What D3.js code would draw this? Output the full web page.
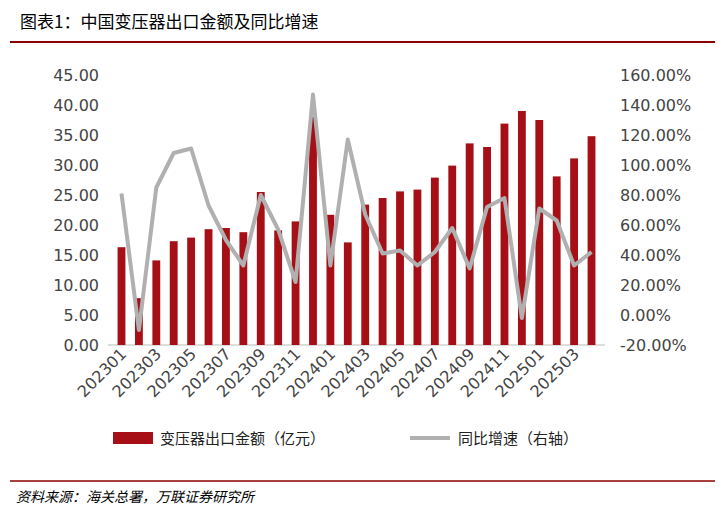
<!DOCTYPE html>
<html>
<head>
<meta charset="utf-8" />
<style>body{margin:0;background:#fff;font-family:"Noto Sans CJK SC","DejaVu Sans",sans-serif;}</style>
</head>
<body>
<svg width="725" height="512"></svg>
<script src="https://cdn.jsdelivr.net/npm/d3@7/dist/d3.min.js"></script>
<script>
var months = ['202301','202302','202303','202304','202305','202306','202307','202308','202309','202310','202311','202312',
  '202401','202402','202403','202404','202405','202406','202407','202408','202409','202410','202411','202412',
  '202501','202502','202503','202504'];
var exportValue = [16.3,7.8,14.1,17.3,17.9,19.3,19.5,18.8,25.5,19.1,20.6,38.0,
  21.7,17.1,23.4,24.5,25.6,25.9,27.9,29.9,33.6,33.0,36.9,39.0,37.5,28.1,31.1,34.8];
var yoyGrowth = [81,-10,85,108,111,73,50,33,80,57,22,147,
  33,117,67,41,43,33,42,58,31,72,78,-2,71,63,33,42];
var leftTicks = [0,5,10,15,20,25,30,35,40,45];
var rightTicks = [-20,0,20,40,60,80,100,120,140,160];

var svg = d3.select('svg');
var plotTop = 75, plotBottom = 345, plotLeft = 108, plotRight = 605;

svg.append('text').attr('x', 20).attr('y', 28).attr('font-size', 17).attr('fill', '#000')
  .text('图表1：中国变压器出口金额及同比增速');
svg.append('line').attr('x1', 10).attr('x2', 715).attr('y1', 42).attr('y2', 42).attr('stroke', '#8b0000').attr('stroke-width', 2);
svg.append('line').attr('x1', 10).attr('x2', 715).attr('y1', 481).attr('y2', 481).attr('stroke', '#8b0000').attr('stroke-width', 1.5);
svg.append('text').attr('x', 16).attr('y', 502).attr('font-size', 14).attr('font-style', 'italic')
  .text('资料来源：海关总署，万联证券研究所');

var x = d3.scaleBand().domain(months).range([plotLeft, plotRight]).padding(0.55);
var yL = d3.scaleLinear().domain([0, 45]).range([plotBottom, plotTop]);
var yR = d3.scaleLinear().domain([-20, 160]).range([plotBottom, plotTop]);

svg.append('g').attr('transform', 'translate(' + (plotLeft - 6) + ',0)')
  .call(d3.axisLeft(yL).tickValues(leftTicks).tickFormat(d3.format('.2f')).tickSize(0))
  .call(function (g) { g.select('.domain').remove(); })
  .selectAll('text').attr('font-size', 16).attr('fill', '#444').attr('font-family', 'DejaVu Sans');

svg.append('g').attr('transform', 'translate(' + (plotRight + 12) + ',0)')
  .call(d3.axisRight(yR).tickValues(rightTicks).tickFormat(function (d) { return d.toFixed(2) + '%'; }).tickSize(0))
  .call(function (g) { g.select('.domain').remove(); })
  .selectAll('text').attr('font-size', 16).attr('fill', '#444').attr('font-family', 'DejaVu Sans');

svg.append('line').attr('x1', plotLeft).attr('x2', plotRight).attr('y1', plotBottom).attr('y2', plotBottom).attr('stroke', '#bbb');

svg.selectAll('rect.bar').data(exportValue).enter().append('rect')
  .attr('x', function (d, i) { return x(months[i]); })
  .attr('y', function (d) { return yL(d); })
  .attr('width', x.bandwidth())
  .attr('height', function (d) { return plotBottom - yL(d); })
  .attr('fill', '#a50f15');

var line = d3.line()
  .x(function (d, i) { return x(months[i]) + x.bandwidth() / 2; })
  .y(function (d) { return yR(d); });
svg.append('path').datum(yoyGrowth).attr('d', line).attr('fill', 'none')
  .attr('stroke', '#b0b0b0').attr('stroke-width', 4).attr('stroke-linejoin', 'round');

months.forEach(function (m, i) {
  if (i % 2) return;
  var cx = x(m) + x.bandwidth() / 2 + 6;
  svg.append('text').attr('transform', 'translate(' + cx + ',' + (plotBottom + 10) + ') rotate(-45)')
    .attr('text-anchor', 'end').attr('font-size', 16).attr('fill', '#444').attr('font-family', 'DejaVu Sans')
    .text(m);
});

var lg = svg.append('g');
lg.append('rect').attr('x', 113).attr('y', 432).attr('width', 40).attr('height', 12).attr('fill', '#a50f15');
lg.append('text').attr('x', 160).attr('y', 444).attr('font-size', 15).attr('fill', '#222').text('变压器出口金额（亿元）');
lg.append('line').attr('x1', 410).attr('x2', 450).attr('y1', 438).attr('y2', 438).attr('stroke', '#b0b0b0').attr('stroke-width', 4);
lg.append('text').attr('x', 458).attr('y', 444).attr('font-size', 15).attr('fill', '#222').text('同比增速（右轴）');
</script>
</body>
</html>
